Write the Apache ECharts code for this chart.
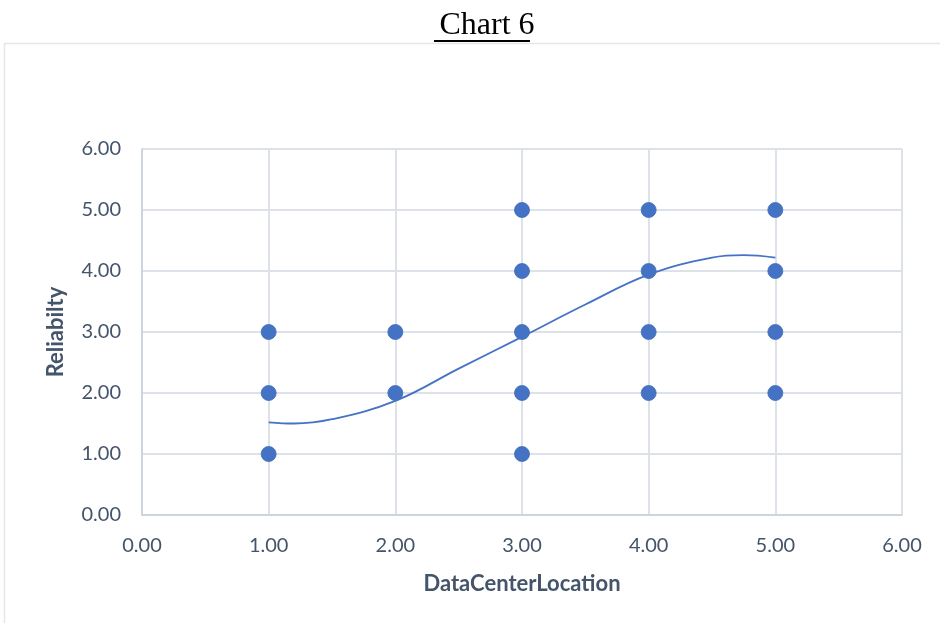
<!DOCTYPE html>
<html>
<head>
<meta charset="utf-8">
<script src="https://cdn.jsdelivr.net/npm/echarts@6/dist/echarts.min.js"></script>
<style>
  html, body { margin: 0; padding: 0; background: #fff; }
  #main { width: 940px; height: 623px; }
</style>
</head>
<body>
<div id="main"></div>
<script>
// observed points (DataCenterLocation, Reliabilty)
var pointX = [1, 1, 1, 2, 2, 3, 3, 3, 3, 3, 4, 4, 4, 4, 5, 5, 5, 5];
var pointY = [1, 2, 3, 2, 3, 1, 2, 3, 4, 5, 2, 3, 4, 5, 2, 3, 4, 5];

// trend line, values
var trendX = [1, 1.2, 1.5, 2, 2.5, 3, 3.5, 4, 4.5, 4.75, 5];
var trendY = [1.52, 1.50, 1.57, 1.87, 2.40, 2.92, 3.45, 3.94, 4.22, 4.26, 4.22];

var ticks = [0, 1, 2, 3, 4, 5, 6];

var labelColor = '#44546A';
var gridColor = '#DDE1E8';
var blue = '#4472C4';

var chart = echarts.init(document.getElementById('main'));

var scatterData = pointX.map(function(x, i) { return [x, pointY[i]]; });
var trendData = trendX.map(function(x, i) { return [x, trendY[i]]; });

function axis(name, gap) {
    return {
        type: 'value',
        min: ticks[0],
        max: ticks[ticks.length - 1],
        interval: 1,
        name: name,
        nameLocation: 'middle',
        nameGap: gap,
        nameTextStyle: { fontFamily: 'Lato', fontWeight: 'bold', fontSize: 22, color: labelColor },
        axisLine: { show: true, lineStyle: { color: '#C9CFDA', width: 1.5 } },
        axisTick: { show: false },
        axisLabel: {
            fontFamily: 'Lato', fontSize: 20, color: labelColor, margin: 21,
            formatter: function(v) { return v.toFixed(2); }
        },
        splitLine: { show: true, lineStyle: { color: gridColor, width: 2 } }
    };
}

var option = {
    animation: false,
    backgroundColor: '#fff',
    title: {
        text: 'Chart 6',
        left: 482,
        textAlign: 'center',
        top: 5,
        textStyle: { fontFamily: 'Liberation Serif', fontWeight: 'normal', fontSize: 32, color: '#000' }
    },
    graphic: [
        {
            type: 'line', z: 10,
            shape: { x1: 434, y1: 41, x2: 530, y2: 41 },
            style: { stroke: '#000', lineWidth: 2 }
        },
        {
            type: 'rect', z: -1,
            shape: { x: 4.5, y: 43.5, width: 1000, height: 700 },
            style: { fill: 'none', stroke: '#E3E6EA', lineWidth: 1.5 }
        }
    ],
    grid: { left: 142, top: 149, right: 38, bottom: 108 },
    xAxis: axis('DataCenterLocation', 58),
    yAxis: axis('Reliabilty', 75),
    series: [
        {
            type: 'scatter',
            data: scatterData,
            symbolSize: 15,
            itemStyle: { color: blue, opacity: 1, borderColor: '#3F69B6', borderWidth: 0.8 },
            z: 3
        },
        {
            type: 'line',
            data: trendData,
            smooth: 0.4,
            showSymbol: false,
            lineStyle: { color: blue, width: 1.8 },
            z: 4
        }
    ]
};

chart.setOption(option);
</script>
</body>
</html>
